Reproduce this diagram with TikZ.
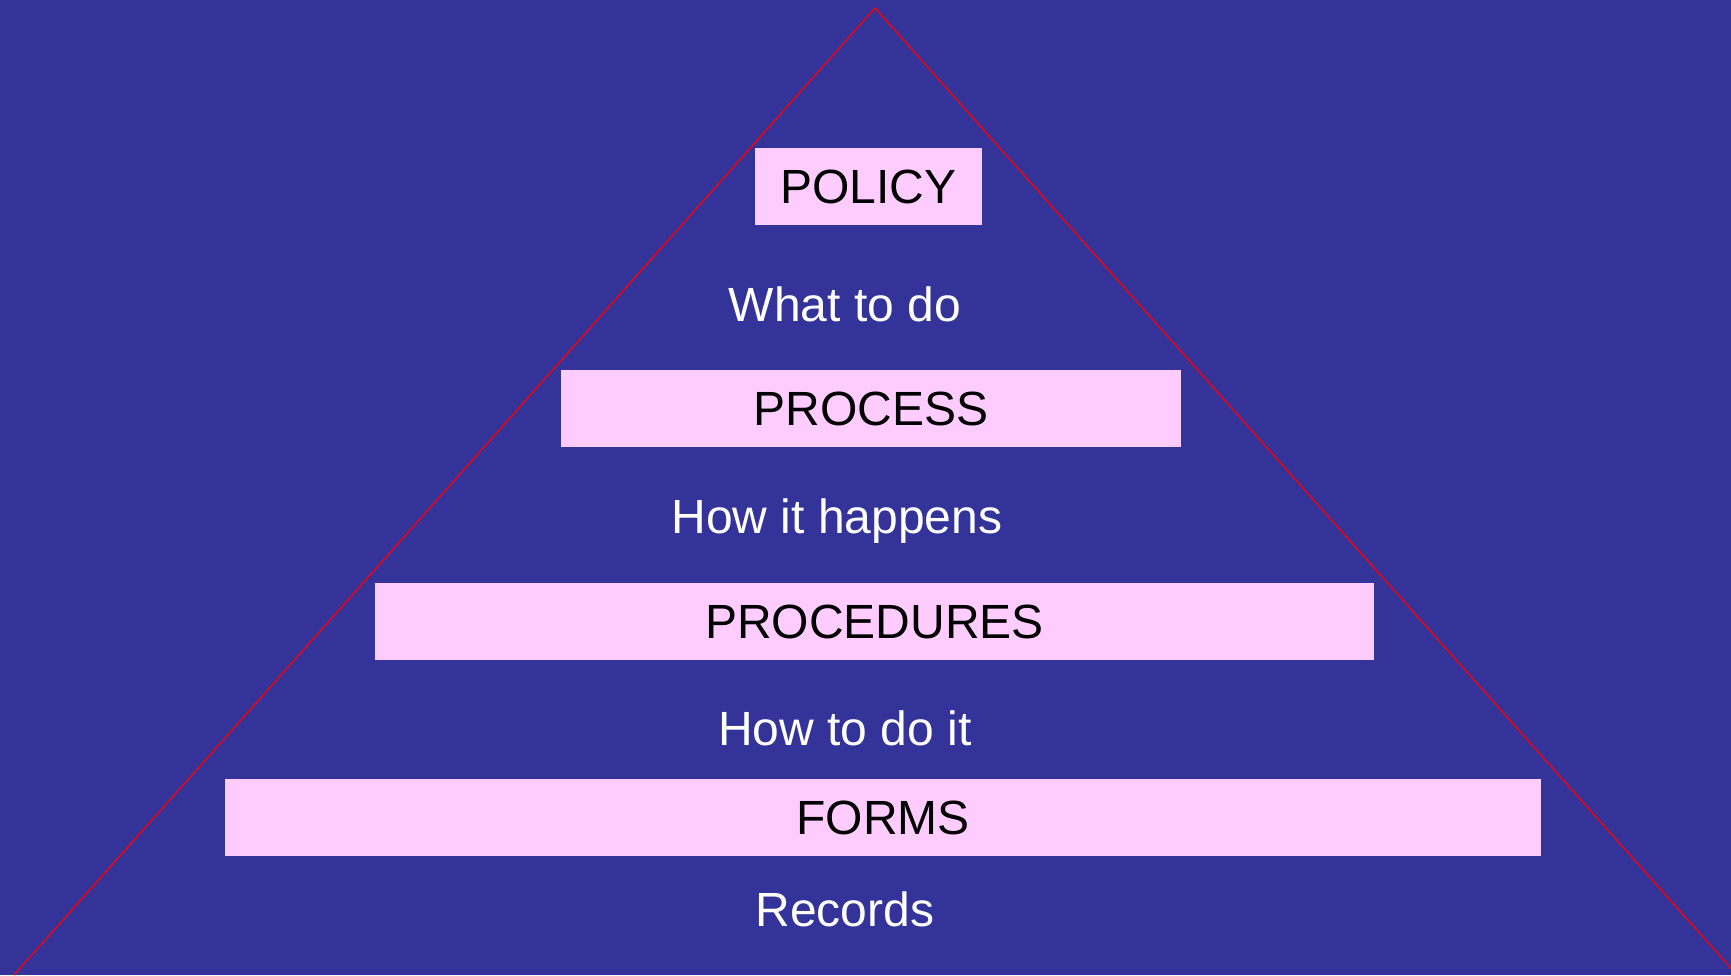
\documentclass[tikz,border=0pt]{standalone}
\usepackage{fontspec}
\setmainfont{Liberation Sans}
\usepackage{xcolor}
\usepackage{tikz}
\usetikzlibrary{positioning}
\definecolor{colorBg}{HTML}{333399}
\definecolor{colorBox}{HTML}{FFCCFF}
\definecolor{colorLine}{HTML}{FF0000}

\tikzset{
    levelbox/.style={fill=colorBox, text=black, inner sep=0pt, minimum height=77pt,
        font=\fontsize{48}{58}\selectfont},
    levelnote/.style={text=white, inner sep=0pt, anchor=base,
        font=\fontsize{48}{58}\selectfont}
}

\begin{document}
\begin{tikzpicture}[x=1pt, y=-1pt]
        \fill[colorBg] (0,0) rectangle (1731,975);
        \useasboundingbox (0,0) rectangle (1731,975);

        \coordinate (apex) at (875,8);
        \coordinate (baseL) at (14,975);
        \coordinate (baseR) at (1737,975);
        \begin{scope}
            \clip (0,0) rectangle (1731,975);
            \draw[colorLine, line width=1.3pt] (baseL) -- (apex) -- (baseR);
        \end{scope}

        \node[levelbox, minimum width=227pt] (policy) at (868.5,186.5) {POLICY};
        \node[levelbox, minimum width=620pt] (process) at (871,408.5) {PROCESS};
        \node[levelbox, minimum width=999pt] (procedures) at (874.5,621.5) {PROCEDURES};
        \node[levelbox, minimum width=1316pt] (forms) at (883,817.5) {FORMS};

        \node[levelnote] (what) at (845,321) {What to do};
        \node[levelnote] (how) at (837,533) {How it happens};
        \node[levelnote] (howdo) at (845,745) {How to do it};
        \node[levelnote] (records) at (845,926) {Records};
    \end{tikzpicture}
\end{document}
